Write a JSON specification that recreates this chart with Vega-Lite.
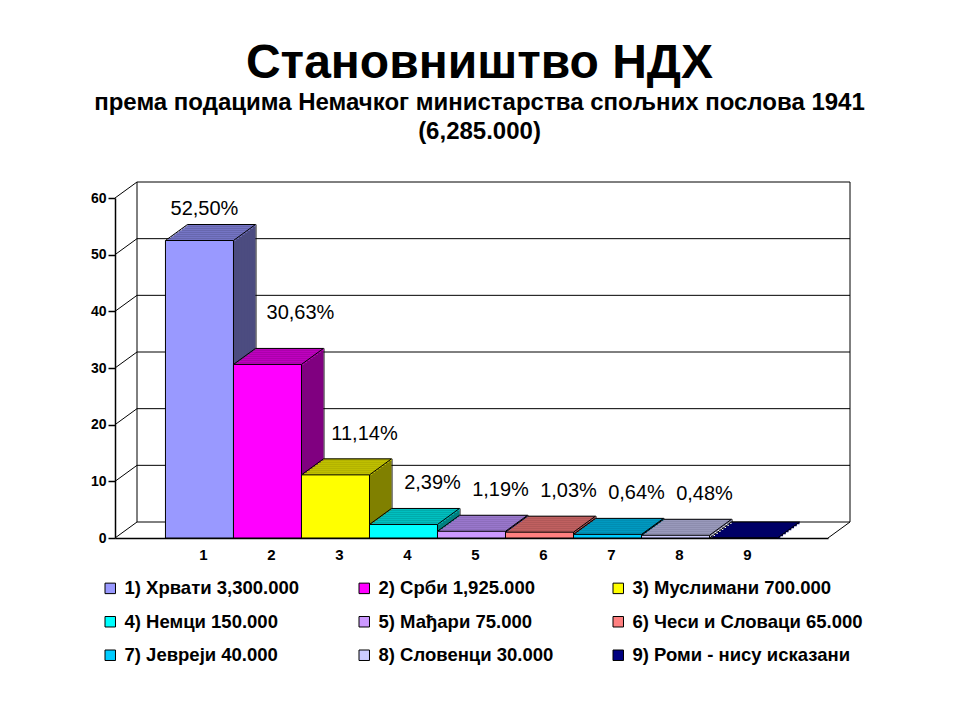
{
  "$schema": "https://vega.github.io/schema/vega-lite/v6.json",
  "width": 713,
  "height": 340,
  "autosize": {"type": "none"},
  "padding": {"left": 115, "top": 198, "right": 132, "bottom": 182},
  "background": "white",
  "title": {
    "text": "Становништво НДХ",
    "subtitle": ["према подацима Немачког министарства спољних послова 1941", "(6,285.000)"],
    "font": "Liberation Sans",
    "fontSize": 48,
    "fontWeight": "bold",
    "color": "black",
    "subtitleFont": "Liberation Sans",
    "subtitleFontSize": 24,
    "subtitleFontWeight": "bold",
    "subtitleColor": "black",
    "subtitleLineHeight": 29,
    "subtitlePadding": 3,
    "anchor": "middle",
    "frame": "group",
    "dx": 8,
    "offset": 38
  },
  "data": {
    "values": [
      {"cat": "1", "label": "1) Хрвати 3,300.000", "value": 52.5, "pct": "52,50%"},
      {"cat": "2", "label": "2) Срби 1,925.000", "value": 30.63, "pct": "30,63%"},
      {"cat": "3", "label": "3) Муслимани 700.000", "value": 11.14, "pct": "11,14%"},
      {"cat": "4", "label": "4) Немци 150.000", "value": 2.39, "pct": "2,39%"},
      {"cat": "5", "label": "5) Мађари 75.000", "value": 1.19, "pct": "1,19%"},
      {"cat": "6", "label": "6) Чеси и Словаци 65.000", "value": 1.03, "pct": "1,03%"},
      {"cat": "7", "label": "7) Јевреји 40.000", "value": 0.64, "pct": "0,64%"},
      {"cat": "8", "label": "8) Словенци 30.000", "value": 0.48, "pct": "0,48%"},
      {"cat": "9", "label": "9) Роми - нису исказани", "value": 0, "pct": ""}
    ]
  },
  "resolve": {"scale": {"color": "independent"}},
  "layer": [
    {
      "data": {"values": [{"v": 0}, {"v": 10}, {"v": 20}, {"v": 30}, {"v": 40}, {"v": 50}, {"v": 60}]},
      "mark": {"type": "rule", "color": "black", "strokeWidth": 1, "xOffset": 22, "x2Offset": 22, "yOffset": -16, "y2Offset": -16},
      "encoding": {
        "x": {"value": 0},
        "x2": {"value": "width"},
        "y": {"field": "v", "type": "quantitative", "title": null},
        "y2": {"field": "v"}
      }
    },
    {
      "data": {"values": [{"v": 0}, {"v": 10}, {"v": 20}, {"v": 30}, {"v": 40}, {"v": 50}, {"v": 60}]},
      "mark": {"type": "rule", "color": "black", "strokeWidth": 1, "x2Offset": 22, "y2Offset": -16},
      "encoding": {
        "x": {"value": 0},
        "x2": {"value": 0},
        "y": {"field": "v", "type": "quantitative", "title": null},
        "y2": {"field": "v"}
      }
    },
    {
      "data": {"values": [{"edge": "left"}]},
      "mark": {"type": "rule", "color": "black", "strokeWidth": 1, "xOffset": 22, "yOffset": -16, "y2Offset": -16},
      "encoding": {
        "x": {"value": 0},
        "y": {"datum": 0, "type": "quantitative", "title": null},
        "y2": {"datum": 60}
      }
    },
    {
      "data": {"values": [{"edge": "right"}]},
      "mark": {"type": "rule", "color": "black", "strokeWidth": 1, "xOffset": 22, "yOffset": -16, "y2Offset": -16},
      "encoding": {
        "x": {"value": "width"},
        "y": {"datum": 0, "type": "quantitative", "title": null},
        "y2": {"datum": 60}
      }
    },
    {
      "data": {"values": [{"edge": "floor"}]},
      "mark": {"type": "rule", "color": "black", "strokeWidth": 1, "x2Offset": 22, "y2Offset": -16},
      "encoding": {
        "x": {"value": "width"},
        "x2": {"value": "width"},
        "y": {"datum": 0, "type": "quantitative", "title": null},
        "y2": {"datum": 0}
      }
    },
    {
      "resolve": {"scale": {"color": "independent"}},
      "layer": [
        {
          "mark": {"type": "rule", "color": "black", "strokeWidth": 1, "xOffset": 22.5, "yOffset": -16, "y2Offset": -16},
          "encoding": {"x": {"field": "cat", "type": "ordinal", "bandPosition": 1, "title": null}, "y2": {"datum": 0}}
        },
        {"mark": {"type": "bar", "xOffset": 22, "x2Offset": 22, "yOffset": -16, "y2Offset": -16}, "encoding": {"color": {"field": "label", "type": "nominal", "legend": null, "scale": {"range": ["#4c4c80", "#800080", "#808000", "#008080", "#664c80", "#804040", "#006680", "#666680", "#000040"]}}}},
        {"mark": {"type": "bar", "xOffset": 22, "x2Offset": 22, "yOffset": -16, "y2Offset": -13.8}, "encoding": {"y2": {"field": "value"}, "color": {"field": "label", "type": "nominal", "legend": null, "scale": {"range": ["#7474c4", "#bf00bf", "#bfbf00", "#00bfbf", "#9977cc", "#c06060", "#0099c0", "#9999bb", "#000066"]}}}},
        {"mark": {"type": "bar", "xOffset": 19.25, "x2Offset": 19.25, "yOffset": -14, "y2Offset": -14}, "encoding": {"color": {"field": "label", "type": "nominal", "legend": null, "scale": {"range": ["#4c4c80", "#800080", "#808000", "#008080", "#664c80", "#804040", "#006680", "#666680", "#000040"]}}}},
        {"mark": {"type": "bar", "xOffset": 19.25, "x2Offset": 19.25, "yOffset": -14, "y2Offset": -11.8}, "encoding": {"y2": {"field": "value"}, "color": {"field": "label", "type": "nominal", "legend": null, "scale": {"range": ["#7474c4", "#bf00bf", "#bfbf00", "#00bfbf", "#9977cc", "#c06060", "#0099c0", "#9999bb", "#000066"]}}}},
        {"mark": {"type": "bar", "xOffset": 16.5, "x2Offset": 16.5, "yOffset": -12, "y2Offset": -12}, "encoding": {"color": {"field": "label", "type": "nominal", "legend": null, "scale": {"range": ["#4c4c80", "#800080", "#808000", "#008080", "#664c80", "#804040", "#006680", "#666680", "#000040"]}}}},
        {"mark": {"type": "bar", "xOffset": 16.5, "x2Offset": 16.5, "yOffset": -12, "y2Offset": -9.8}, "encoding": {"y2": {"field": "value"}, "color": {"field": "label", "type": "nominal", "legend": null, "scale": {"range": ["#7474c4", "#bf00bf", "#bfbf00", "#00bfbf", "#9977cc", "#c06060", "#0099c0", "#9999bb", "#000066"]}}}},
        {"mark": {"type": "bar", "xOffset": 13.75, "x2Offset": 13.75, "yOffset": -10, "y2Offset": -10}, "encoding": {"color": {"field": "label", "type": "nominal", "legend": null, "scale": {"range": ["#4c4c80", "#800080", "#808000", "#008080", "#664c80", "#804040", "#006680", "#666680", "#000040"]}}}},
        {"mark": {"type": "bar", "xOffset": 13.75, "x2Offset": 13.75, "yOffset": -10, "y2Offset": -7.8}, "encoding": {"y2": {"field": "value"}, "color": {"field": "label", "type": "nominal", "legend": null, "scale": {"range": ["#7474c4", "#bf00bf", "#bfbf00", "#00bfbf", "#9977cc", "#c06060", "#0099c0", "#9999bb", "#000066"]}}}},
        {"mark": {"type": "bar", "xOffset": 11, "x2Offset": 11, "yOffset": -8, "y2Offset": -8}, "encoding": {"color": {"field": "label", "type": "nominal", "legend": null, "scale": {"range": ["#4c4c80", "#800080", "#808000", "#008080", "#664c80", "#804040", "#006680", "#666680", "#000040"]}}}},
        {"mark": {"type": "bar", "xOffset": 11, "x2Offset": 11, "yOffset": -8, "y2Offset": -5.8}, "encoding": {"y2": {"field": "value"}, "color": {"field": "label", "type": "nominal", "legend": null, "scale": {"range": ["#7474c4", "#bf00bf", "#bfbf00", "#00bfbf", "#9977cc", "#c06060", "#0099c0", "#9999bb", "#000066"]}}}},
        {"mark": {"type": "bar", "xOffset": 8.25, "x2Offset": 8.25, "yOffset": -6, "y2Offset": -6}, "encoding": {"color": {"field": "label", "type": "nominal", "legend": null, "scale": {"range": ["#4c4c80", "#800080", "#808000", "#008080", "#664c80", "#804040", "#006680", "#666680", "#000040"]}}}},
        {"mark": {"type": "bar", "xOffset": 8.25, "x2Offset": 8.25, "yOffset": -6, "y2Offset": -3.8}, "encoding": {"y2": {"field": "value"}, "color": {"field": "label", "type": "nominal", "legend": null, "scale": {"range": ["#7474c4", "#bf00bf", "#bfbf00", "#00bfbf", "#9977cc", "#c06060", "#0099c0", "#9999bb", "#000066"]}}}},
        {"mark": {"type": "bar", "xOffset": 5.5, "x2Offset": 5.5, "yOffset": -4, "y2Offset": -4}, "encoding": {"color": {"field": "label", "type": "nominal", "legend": null, "scale": {"range": ["#4c4c80", "#800080", "#808000", "#008080", "#664c80", "#804040", "#006680", "#666680", "#000040"]}}}},
        {"mark": {"type": "bar", "xOffset": 5.5, "x2Offset": 5.5, "yOffset": -4, "y2Offset": -1.8}, "encoding": {"y2": {"field": "value"}, "color": {"field": "label", "type": "nominal", "legend": null, "scale": {"range": ["#7474c4", "#bf00bf", "#bfbf00", "#00bfbf", "#9977cc", "#c06060", "#0099c0", "#9999bb", "#000066"]}}}},
        {"mark": {"type": "bar", "xOffset": 2.75, "x2Offset": 2.75, "yOffset": -2, "y2Offset": -2}, "encoding": {"color": {"field": "label", "type": "nominal", "legend": null, "scale": {"range": ["#4c4c80", "#800080", "#808000", "#008080", "#664c80", "#804040", "#006680", "#666680", "#000040"]}}}},
        {"mark": {"type": "bar", "xOffset": 2.75, "x2Offset": 2.75, "yOffset": -2, "y2Offset": 0.2}, "encoding": {"y2": {"field": "value"}, "color": {"field": "label", "type": "nominal", "legend": null, "scale": {"range": ["#7474c4", "#bf00bf", "#bfbf00", "#00bfbf", "#9977cc", "#c06060", "#0099c0", "#9999bb", "#000066"]}}}},
        {
          "mark": {"type": "rule", "color": "black", "strokeWidth": 1, "x2Offset": 22, "y2Offset": -16},
          "encoding": {"x": {"field": "cat", "type": "ordinal", "bandPosition": 0, "title": null}, "x2": {"field": "cat", "bandPosition": 0}, "y2": {"field": "value"}}
        },
        {
          "mark": {"type": "rule", "color": "black", "strokeWidth": 1, "x2Offset": 22, "y2Offset": -16},
          "encoding": {"x": {"field": "cat", "type": "ordinal", "bandPosition": 1, "title": null}, "x2": {"field": "cat", "bandPosition": 1}, "y2": {"field": "value"}}
        },
        {
          "mark": {"type": "rule", "color": "black", "strokeWidth": 1, "xOffset": 22, "x2Offset": 22, "yOffset": -16, "y2Offset": -16},
          "encoding": {"x": {"field": "cat", "type": "ordinal", "bandPosition": 0, "title": null}, "x2": {"field": "cat", "bandPosition": 1}, "y2": {"field": "value"}}
        },
        {
          "mark": {"type": "bar", "stroke": "black", "strokeWidth": 1},
          "encoding": {
            "color": {
              "field": "label",
              "type": "nominal",
              "scale": {"range": ["#9999ff", "#ff00ff", "#ffff00", "#00ffff", "#cc99ff", "#ff8080", "#00ccff", "#ccccff", "#000080"]},
              "legend": {
                "orient": "none",
                "legendX": -14,
                "legendY": 381,
                "direction": "horizontal",
                "title": null,
                "columns": 3,
                "columnPadding": -2,
                "rowPadding": 14.5,
                "gridAlign": "all",
                "symbolType": "square",
                "symbolSize": 110,
                "symbolStrokeColor": "black",
                "symbolStrokeWidth": 1,
                "labelFont": "Liberation Sans",
                "labelFontSize": 18.5,
                "labelFontWeight": "bold",
                "labelColor": "black",
                "labelOffset": 5,
                "labelLimit": 400
              }
            }
          }
        },
        {
          "transform": [{"filter": "datum.cat == '1'"}],
          "mark": {"type": "text", "font": "Liberation Sans", "fontSize": 20, "color": "black", "dx": 5, "dy": -32, "baseline": "middle"},
          "encoding": {"text": {"field": "pct"}}
        },
        {
          "transform": [{"filter": "datum.cat == '2'"}],
          "mark": {"type": "text", "font": "Liberation Sans", "fontSize": 20, "color": "black", "dx": 33, "dy": -51, "baseline": "middle"},
          "encoding": {"text": {"field": "pct"}}
        },
        {
          "transform": [{"filter": "datum.cat != '1' && datum.cat != '2' && datum.cat != '9'"}],
          "mark": {"type": "text", "font": "Liberation Sans", "fontSize": 20, "color": "black", "dx": 29, "dy": -41, "baseline": "middle"},
          "encoding": {"text": {"field": "pct"}}
        }
      ],
      "encoding": {
        "x": {
          "field": "cat",
          "type": "ordinal",
          "title": null,
          "scale": {"paddingInner": 0, "paddingOuter": 0.742}
        },
        "y": {
          "field": "value",
          "type": "quantitative",
          "title": null,
          "scale": {"domain": [0, 60], "nice": false}
        }
      }
    }
  ],
  "config": {
    "view": {"stroke": null},
    "axis": {"grid": false, "domainColor": "black", "domainWidth": 1.5, "labelFont": "Liberation Sans", "labelFontWeight": "bold", "labelColor": "black"},
    "axisX": {"labelAngle": 0, "ticks": false, "labelFontSize": 15, "labelPadding": 9, "labelOffset": 4},
    "axisY": {"tickCount": 6, "tickColor": "black", "tickWidth": 1.5, "tickSize": 7, "labelFontSize": 14, "labelPadding": 2}
  }
}
